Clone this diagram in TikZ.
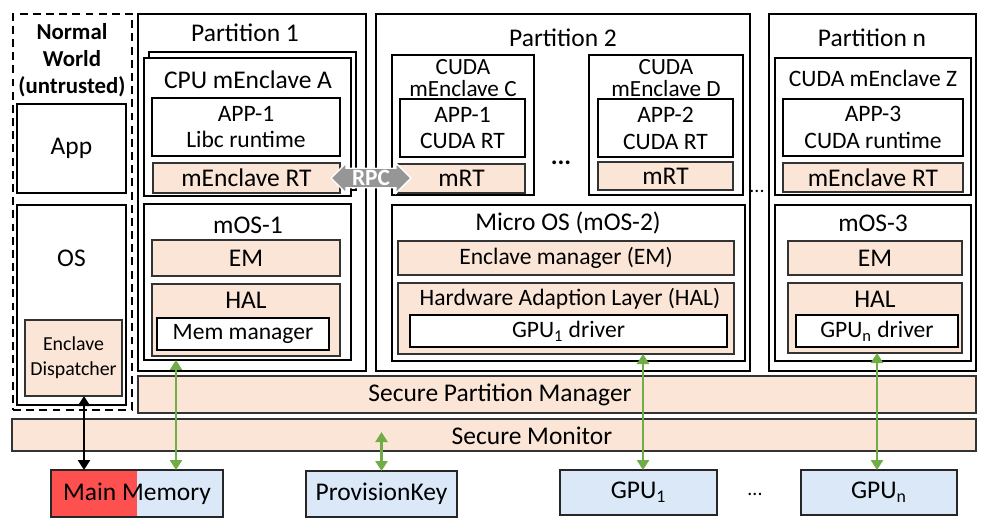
\documentclass[tikz,border=0pt]{standalone}
\usepackage{fontspec}
\setmainfont{Carlito}
\usetikzlibrary{arrows.meta,positioning,shapes.arrows}
\definecolor{peach}{RGB}{251,229,214}
\definecolor{lblue}{RGB}{218,232,248}
\definecolor{memred}{RGB}{255,80,80}
\definecolor{linkgreen}{RGB}{112,173,71}
\definecolor{rpcgray}{RGB}{150,150,150}

\begin{document}
\begin{tikzpicture}[x=0.02cm, y=-0.02cm,
    lg/.style={font=\fontsize{14.5}{15.5}\selectfont},
    md/.style={font=\fontsize{13.4}{15.3}\selectfont},
    sm/.style={font=\fontsize{11.3}{14.2}\selectfont},
    part/.style={draw, line width=1.3pt, inner sep=0pt, outer sep=0pt},
    encl/.style={draw, line width=0.7pt, fill=white, inner sep=0pt, outer sep=0pt},
    wbox/.style={draw, line width=1pt, fill=white, inner sep=0pt, outer sep=0pt, align=center, md},
    pbox/.style={draw=black!80, line width=1.2pt, fill=peach, inner sep=0pt, outer sep=0pt, lg},
    hw/.style={draw=black!85, line width=1pt, fill=lblue, inner sep=0pt, outer sep=0pt, lg},
    garrow/.style={linkgreen, line width=1.5pt,
                   {Triangle[length=0.2cm,width=0.24cm]}-{Triangle[length=0.2cm,width=0.24cm]}},
    karrow/.style={black, line width=1.5pt,
                   {Triangle[length=0.2cm,width=0.24cm]}-{Triangle[length=0.2cm,width=0.24cm]}}]
    \useasboundingbox (0,0) rectangle (1000,525);

    % Normal world
    \node[draw, line width=1.3pt, dash pattern=on 4.5pt off 3pt, minimum width=2.38cm, minimum height=7.92cm] (nw) at (72.5,212) {};
    \node[font=\fontsize{13}{15.3}\selectfont\bfseries, align=center] (nwt) at (72,60) {Normal\\World\\(untrusted)};
    \node[part, lg, minimum width=2.18cm, minimum height=1.78cm] (app) at (71.5,148.5) {App};
    \node[part, minimum width=2.18cm, minimum height=4cm] (os) at (71.5,305) {};
    \node[lg] (ost) at (71.5,258) {OS};
    \node[pbox, sm, align=center, minimum width=1.94cm, minimum height=1.52cm] (disp) at (73.5,358) {Enclave\\Dispatcher};

    % Partition 1
    \node[part, minimum width=4.56cm, minimum height=7.14cm] (p1) at (252,192.5) {};
    \node[lg] (p1t) at (245,33) {Partition 1};
    \node[encl, minimum width=4.14cm, minimum height=2.76cm] (encAb) at (252.5,121) {};
    \node[encl, minimum width=4.14cm, minimum height=2.76cm] (encA) at (247.5,127) {};
    \node[lg] (encAt) at (248,80) {CPU mEnclave A};
    \node[wbox, minimum width=3.76cm, minimum height=1.16cm] (appA) at (246,127) {APP-1\\Libc runtime};
    \node[pbox, minimum width=3.74cm, minimum height=0.6cm] (rtA) at (246.5,178) {mEnclave RT};
    \node[encl, minimum width=4.14cm, minimum height=3.12cm] (mosA) at (247.5,282) {};
    \node[lg] (mosAt) at (248,225) {mOS-1};
    \node[pbox, minimum width=3.76cm, minimum height=0.72cm] (emA) at (246,258) {EM};
    \node[pbox, minimum width=3.76cm, minimum height=1.44cm] (halA) at (246,320) {};
    \node[lg] (halAt) at (246,300) {HAL};
    \node[wbox, line width=1.3pt, minimum width=3.44cm, minimum height=0.64cm] (memA) at (243,334) {Mem manager};

    % Partition 2
    \node[part, minimum width=7.48cm, minimum height=7.14cm] (p2) at (563,192.5) {};
    \node[lg] (p2t) at (563,38) {Partition 2};
    \node[encl, minimum width=2.84cm, minimum height=2.8cm] (encC) at (463,125) {};
    \node[font=\fontsize{13.2}{13}\selectfont, align=center] (encCt) at (463,78) {CUDA\\mEnclave C};
    \node[wbox, minimum width=2.5cm, minimum height=1.16cm] (appC) at (462.5,128) {APP-1\\CUDA RT};
    \node[pbox, minimum width=2.54cm, minimum height=0.58cm] (rtC) at (461.5,178.5) {mRT};
    \node[font=\fontsize{14.5}{15.5}\selectfont\bfseries] (dotsC) at (561,163) {...};
    \node[encl, minimum width=3.08cm, minimum height=2.8cm] (encD) at (666,125) {};
    \node[font=\fontsize{13.2}{13}\selectfont, align=center] (encDt) at (666,78) {CUDA\\mEnclave D};
    \node[wbox, minimum width=2.7cm, minimum height=1.16cm] (appD) at (665.5,128) {APP-2\\CUDA RT};
    \node[pbox, minimum width=2.7cm, minimum height=0.56cm] (rtD) at (665.5,176) {mRT};
    \node[encl, minimum width=7.06cm, minimum height=3.12cm] (mosB) at (568.5,283) {};
    \node[lg] (mosBt) at (568,223) {Micro OS (mOS-2)};
    \node[pbox, md, minimum width=6.72cm, minimum height=0.68cm] (emB) at (566,258) {Enclave manager (EM)};
    \node[pbox, minimum width=6.72cm, minimum height=1.42cm] (halB) at (566,318.5) {};
    \node[md] (halBt) at (570,299) {Hardware Adaption Layer (HAL)};
    \node[wbox, minimum width=6.34cm, minimum height=0.64cm] (drvB) at (568.5,331) {GPU\textsubscript{1} driver};

    \node[sm] (dotsP) at (757,191) {...};

    % Partition n
    \node[part, minimum width=4.14cm, minimum height=7.14cm] (pn) at (872.5,192.5) {};
    \node[lg] (pnt) at (872,38) {Partition n};
    \node[encl, minimum width=3.92cm, minimum height=2.74cm] (encZ) at (873,126.5) {};
    \node[md] (encZt) at (873,78) {CUDA mEnclave Z};
    \node[wbox, minimum width=3.6cm, minimum height=1.14cm] (appZ) at (873,127.5) {APP-3\\CUDA runtime};
    \node[pbox, minimum width=3.6cm, minimum height=0.58cm] (rtZ) at (873,177.5) {mEnclave RT};
    \node[encl, minimum width=3.92cm, minimum height=3.12cm] (mosZ) at (873,283) {};
    \node[lg] (mosZt) at (873,223) {mOS-3};
    \node[pbox, minimum width=3.48cm, minimum height=0.68cm] (emZ) at (875,258) {EM};
    \node[pbox, minimum width=3.48cm, minimum height=1.4cm] (halZ) at (875,318) {};
    \node[lg] (halZt) at (875,299) {HAL};
    \node[wbox, minimum width=3.24cm, minimum height=0.64cm] (drvZ) at (877,331) {GPU\textsubscript{n} driver};

    % Secure layers
    \node[pbox, minimum width=16.76cm, minimum height=0.74cm] (spm) at (557,394.5) {};
    \node[lg] (spmt) at (500,395) {Secure Partition Manager};
    \node[pbox, minimum width=19.28cm, minimum height=0.64cm] (sm) at (494,435) {};
    \node[lg] (smt) at (532,436) {Secure Monitor};

    % Hardware
    \node[hw, minimum width=3.44cm, minimum height=0.94cm,
          path picture={\fill[memred] (path picture bounding box.south west) rectangle (path picture bounding box.north);}]
          (mem) at (137,493.5) {Main Memory};
    \node[hw, minimum width=3.02cm, minimum height=0.92cm] (key) at (381.5,494) {ProvisionKey};
    \node[hw, minimum width=3.14cm, minimum height=0.9cm] (gpu1) at (638.5,492.5) {GPU\textsubscript{1}};
    \node[sm] (dotsG) at (755,494) {...};
    \node[hw, minimum width=3.12cm, minimum height=0.9cm] (gpun) at (879,492.5) {GPU\textsubscript{n}};

    % Links
    \coordinate (dX) at (84,0);
    \coordinate (gA) at (176,0);
    \coordinate (gB) at (643,0);
    \coordinate (gZ) at (877,0);
    \draw[karrow] (disp.south -| dX) -- (mem.north -| dX);
    \draw[garrow] (mosA.south -| gA) -- (mem.north -| gA);
    \draw[garrow] ([yshift=0.06cm]key.north |- sm.center) -- (key.north);
    \draw[garrow] (halB.south -| gB) -- (gpu1.north -| gB);
    \draw[garrow] (halZ.south -| gZ) -- (gpun.north -| gZ);

    % RPC
    \node[double arrow, fill=rpcgray, draw=white, line width=0.8pt, minimum height=1.6cm, minimum width=0.6cm,
          double arrow head extend=0.09cm, inner sep=0pt, text=white,
          font=\fontsize{13.3}{15}\selectfont\bfseries] (rpc) at (371,178) {RPC};
\end{tikzpicture}
\end{document}
